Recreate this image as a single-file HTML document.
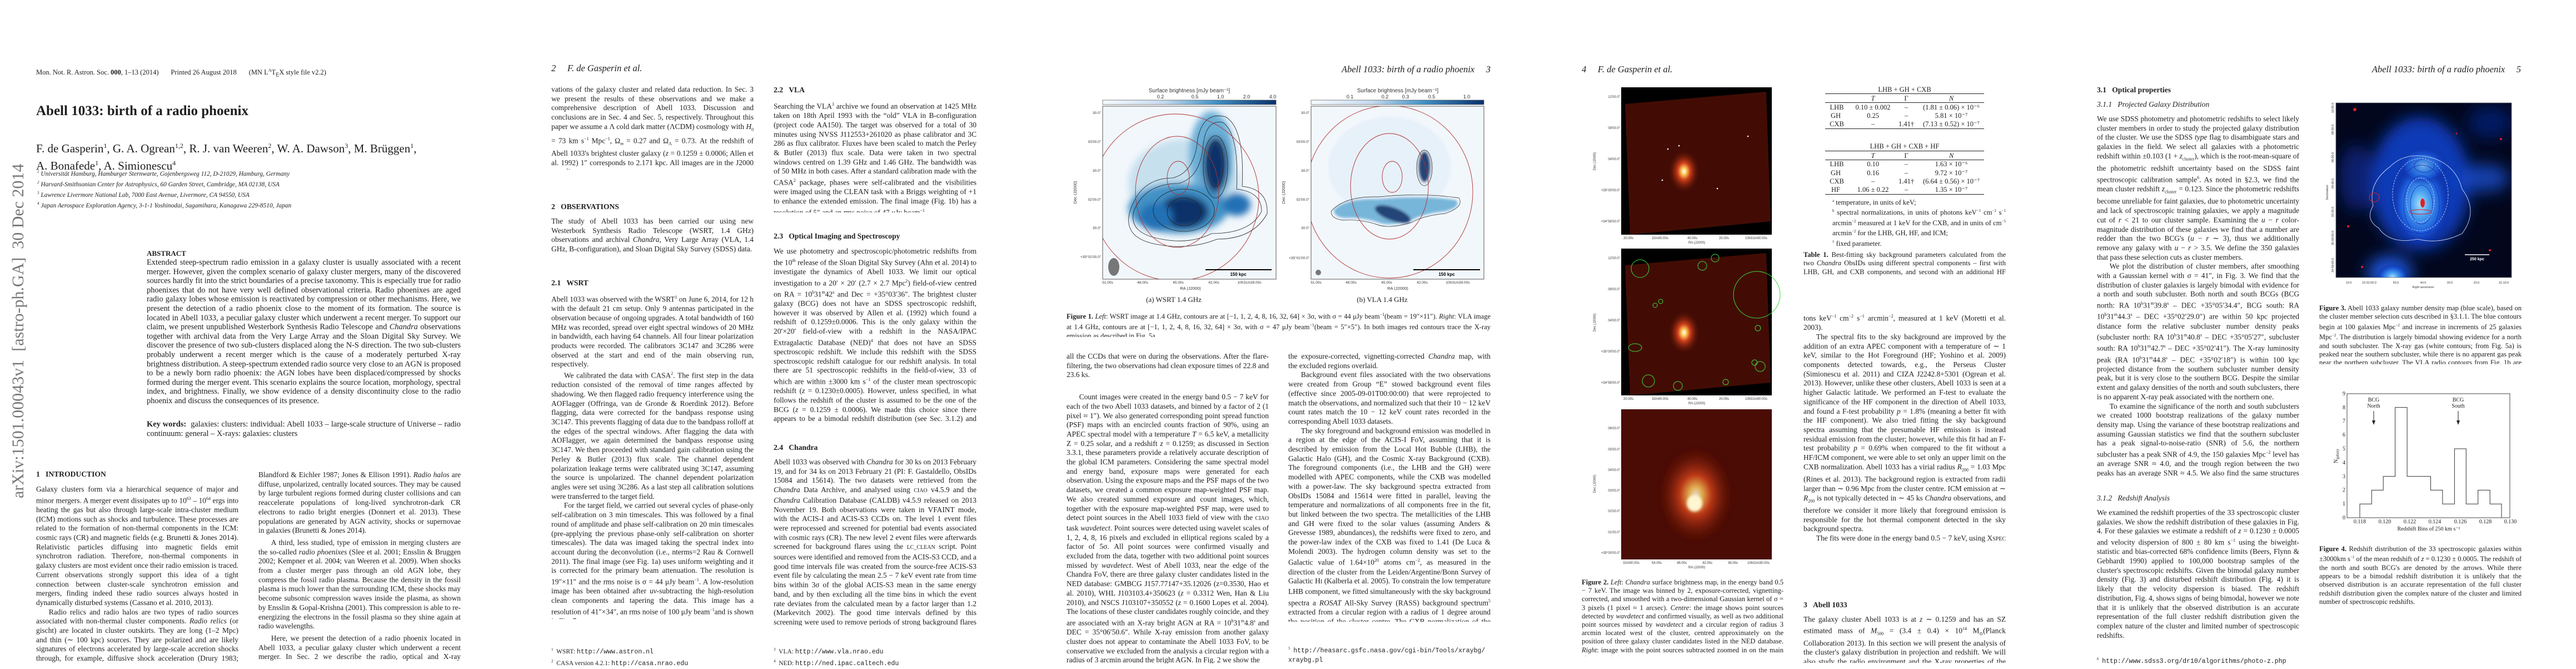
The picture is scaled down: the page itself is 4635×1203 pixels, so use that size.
<!DOCTYPE html>
<html lang="en"><head><meta charset="utf-8">
<style>
html,body{margin:0;padding:0;background:#fff;}
body{width:4635px;height:1200px;position:relative;overflow:hidden;font-family:"Liberation Serif",serif;color:#1e1e1e;}
.t{position:absolute;font-size:13.4px;line-height:16.7px;text-align:justify;overflow:hidden;}
.t p{margin:0;text-indent:1.7em}
.t p.n{text-indent:0}
.h{position:absolute;font-weight:bold;font-size:13.6px;line-height:16px;white-space:nowrap}
.hi{position:absolute;font-style:italic;font-size:13.6px;line-height:16px;white-space:nowrap}
.hd{position:absolute;font-style:italic;font-size:16.5px;line-height:20px;white-space:nowrap}
.cap{position:absolute;font-size:12.5px;line-height:15.3px;text-align:justify;overflow:hidden}
.fn{position:absolute;font-size:11.5px;line-height:16.5px;white-space:nowrap}
.mono{font-family:"Liberation Mono",monospace}
svg{position:absolute;overflow:visible}
</style></head><body>

<!-- ================= PAGE 1 ================= -->
<div style="position:absolute;left:65px;top:119px;font-size:12.5px;line-height:16px;white-space:nowrap">Mon. Not. R. Astron. Soc. <b>000</b>, 1–13 (2014)&nbsp;&nbsp;&nbsp;&nbsp;&nbsp;&nbsp;&nbsp;Printed 26 August 2018&nbsp;&nbsp;&nbsp;&nbsp;&nbsp;&nbsp;&nbsp;(MN L<sup style="font-size:8px">A</sup>T<sub style="font-size:10px">E</sub>X style file v2.2)</div>
<div style="position:absolute;left:65px;top:185px;font-size:25px;line-height:30px;font-weight:bold;white-space:nowrap">Abell 1033: birth of a radio phoenix</div>
<div style="position:absolute;left:65px;top:249px;font-size:21px;line-height:26px;white-space:nowrap">F. de Gasperin<sup style="font-size:12px">1</sup>, G. A. Ogrean<sup style="font-size:12px">1,2</sup>, R. J. van Weeren<sup style="font-size:12px">2</sup>, W. A. Dawson<sup style="font-size:12px">3</sup>, M. Brüggen<sup style="font-size:12px">1</sup>,<br>A. Bonafede<sup style="font-size:12px">1</sup>, A. Simionescu<sup style="font-size:12px">4</sup></div>
<div style="position:absolute;left:67px;top:302px;font-size:11.4px;line-height:15.1px;font-style:italic;white-space:nowrap"><sup style="font-size:7px">1</sup> Universität Hamburg, Hamburger Sternwarte, Gojenbergsweg 112, D-21029, Hamburg, Germany<br><sup style="font-size:7px">2</sup> Harvard-Smithsonian Center for Astrophysics, 60 Garden Street, Cambridge, MA 02138, USA<br><sup style="font-size:7px">3</sup> Lawrence Livermore National Lab, 7000 East Avenue, Livermore, CA 94550, USA<br><sup style="font-size:7px">4</sup> Japan Aerospace Exploration Agency, 3-1-1 Yoshinodai, Sagamihara, Kanagawa 229-8510, Japan</div>
<div style="position:absolute;left:16px;top:896px;transform-origin:0 0;transform:rotate(-90deg);font-size:30px;line-height:34px;color:#777;white-space:nowrap">arXiv:1501.00043v1&nbsp; [astro-ph.GA]&nbsp; 30 Dec 2014</div>
<div class="h" style="left:264px;top:448px;font-size:13px">ABSTRACT</div>
<div class="t" style="left:264px;top:464px;width:565px;height:283px;font-size:14.4px;line-height:16.6px"><p class="n">Extended steep-spectrum radio emission in a galaxy cluster is usually associated with a recent merger. However, given the complex scenario of galaxy cluster mergers, many of the discovered sources hardly fit into the strict boundaries of a precise taxonomy. This is especially true for radio phoenixes that do not have very well defined observational criteria. Radio phoenixes are aged radio galaxy lobes whose emission is reactivated by compression or other mechanisms. Here, we present the detection of a radio phoenix close to the moment of its formation. The source is located in Abell 1033, a peculiar galaxy cluster which underwent a recent merger. To support our claim, we present unpublished Westerbork Synthesis Radio Telescope and <i>Chandra</i> observations together with archival data from the Very Large Array and the Sloan Digital Sky Survey. We discover the presence of two sub-clusters displaced along the N-S direction. The two sub-clusters probably underwent a recent merger which is the cause of a moderately perturbed X-ray brightness distribution. A steep-spectrum extended radio source very close to an AGN is proposed to be a newly born radio phoenix: the AGN lobes have been displaced/compressed by shocks formed during the merger event. This scenario explains the source location, morphology, spectral index, and brightness. Finally, we show evidence of a density discontinuity close to the radio phoenix and discuss the consequences of its presence.</p></div>
<div class="t" style="left:264px;top:755px;width:565px;height:34px;font-size:14.4px;line-height:16.6px"><p class="n"><b>Key words:</b>&nbsp; galaxies: clusters: individual: Abell 1033 – large-scale structure of Universe – radio continuum: general – X-rays: galaxies: clusters</p></div>
<div class="h" style="left:65px;top:845px">1&nbsp;&nbsp;&nbsp;INTRODUCTION</div>
<div class="t" style="left:65px;top:872px;width:364px;height:320px"><p class="n">Galaxy clusters form via a hierarchical sequence of major and minor mergers. A merger event dissipates up to 10<sup style="font-size:8px">63</sup> – 10<sup style="font-size:8px">64</sup> ergs into heating the gas but also through large-scale intra-cluster medium (ICM) motions such as shocks and turbulence. These processes are related to the formation of non-thermal components in the ICM: cosmic rays (CR) and magnetic fields (e.g. Brunetti &amp; Jones 2014). Relativistic particles diffusing into magnetic fields emit synchrotron radiation. Therefore, non-thermal components in galaxy clusters are most evident once their radio emission is traced. Current observations strongly support this idea of a tight connection between cluster-scale synchrotron emission and mergers, finding indeed these radio sources always hosted in dynamically disturbed systems (Cassano et al. 2010, 2013).</p><p>Radio relics and radio halos are two types of radio sources associated with non-thermal cluster components. <i>Radio relics</i> (or gischt) are located in cluster outskirts. They are long (1–2 Mpc) and thin (∼ 100 kpc) sources. They are polarized and are likely signatures of electrons accelerated by large-scale accretion shocks through, for example, diffusive shock acceleration (Drury 1983; Blandford</p></div>
<div class="t" style="left:465px;top:846px;width:364px;height:346px"><p class="n">Blandford &amp; Eichler 1987; Jones &amp; Ellison 1991). <i>Radio halos</i> are diffuse, unpolarized, centrally located sources. They may be caused by large turbulent regions formed during cluster collisions and can reaccelerate populations of long-lived synchrotron-dark CR electrons to radio bright energies (Donnert et al. 2013). These populations are generated by AGN activity, shocks or supernovae in galaxies (Brunetti &amp; Jones 2014).</p><p style="margin-top:5px">A third, less studied, type of emission in merging clusters are the so-called <i>radio phoenixes</i> (Slee et al. 2001; Ensslin &amp; Bruggen 2002; Kempner et al. 2004; van Weeren et al. 2009). When shocks from a cluster merger pass through an old AGN lobe, they compress the fossil radio plasma. Because the density in the fossil plasma is much lower than the surrounding ICM, these shocks may become subsonic compression waves inside the plasma, as shown by Ensslin &amp; Gopal-Krishna (2001). This compression is able to re-energizing the electrons in the fossil plasma so they shine again at radio wavelengths.</p><p style="margin-top:5px">Here, we present the detection of a radio phoenix located in Abell 1033, a peculiar galaxy cluster which underwent a recent merger. In Sec. 2 we describe the radio, optical and X-ray observations</p></div>

<!-- ================= PAGE 2 ================= -->
<div class="hd" style="left:992px;top:113px">2&nbsp;&nbsp;&nbsp;&nbsp;&nbsp;F. de Gasperin et al.</div>
<div class="t" style="left:992px;top:153px;width:364px;height:152px"><p class="n">vations of the galaxy cluster and related data reduction. In Sec. 3 we present the results of these observations and we make a comprehensive description of Abell 1033. Discussion and conclusions are in Sec. 4 and Sec. 5, respectively. Throughout this paper we assume a Λ cold dark matter (ΛCDM) cosmology with <i>H</i><sub style="font-size:8px">0</sub> = 73 km s<sup style="font-size:8px">−1</sup> Mpc<sup style="font-size:8px">−1</sup>, Ω<sub style="font-size:8px"><i>m</i></sub> = 0.27 and Ω<sub style="font-size:8px">Λ</sub> = 0.73. At the redshift of Abell 1033's brightest cluster galaxy (<i>z</i> = 0.1259 ± 0.0006; Allen et al. 1992) 1″ corresponds to 2.171 kpc. All images are in the J2000 coordinate system.</p></div>
<div class="h" style="left:992px;top:364px">2&nbsp;&nbsp;&nbsp;OBSERVATIONS</div>
<div class="t" style="left:992px;top:390px;width:364px;height:68px"><p class="n">The study of Abell 1033 has been carried our using new Westerbork Synthesis Radio Telescope (WSRT, 1.4 GHz) observations and archival <i>Chandra</i>, Very Large Array (VLA, 1.4 GHz, B-configuration), and Sloan Digital Sky Survey (SDSS) data.</p></div>
<div class="h" style="left:992px;top:501px">2.1&nbsp;&nbsp;&nbsp;WSRT</div>
<div class="t" style="left:992px;top:527px;width:364px;height:586px"><p class="n">Abell 1033 was observed with the WSRT<sup style="font-size:8px">1</sup> on June 6, 2014, for 12 h with the default 21 cm setup. Only 9 antennas participated in the observation because of ongoing upgrades. A total bandwidth of 160 MHz was recorded, spread over eight spectral windows of 20 MHz in bandwidth, each having 64 channels. All four linear polarization products were recorded. The calibrators 3C147 and 3C286 were observed at the start and end of the main observing run, respectively.</p><p>We calibrated the data with CASA<sup style="font-size:8px">2</sup>. The first step in the data reduction consisted of the removal of time ranges affected by shadowing. We then flagged radio frequency interference using the AOFlagger (Offringa, van de Gronde &amp; Roerdink 2012). Before flagging, data were corrected for the bandpass response using 3C147. This prevents flagging of data due to the bandpass rolloff at the edges of the spectral windows. After flagging the data with AOFlagger, we again determined the bandpass response using 3C147. We then proceeded with standard gain calibration using the Perley &amp; Butler (2013) flux scale. The channel dependent polarization leakage terms were calibrated using 3C147, assuming the source is unpolarized. The channel dependent polarization angles were set using 3C286. As a last step all calibration solutions were transferred to the target field.</p><p>For the target field, we carried out several cycles of phase-only self-calibration on 3 min timescales. This was followed by a final round of amplitude and phase self-calibration on 20 min timescales (pre-applying the previous phase-only self-calibration on shorter timescales). The data was imaged taking the spectral index into account during the deconvolution (i.e., nterms=2 Rau &amp; Cornwell 2011). The final image (see Fig. 1a) uses uniform weighting and it is corrected for the primary beam attenuation. The resolution is 19″×11″ and the rms noise is σ = 44 μJy beam<sup style="font-size:8px">−1</sup>. A low-resolution image has been obtained after <i>uv</i>-subtracting the high-resolution clean components and tapering the data. This image has a resolution of 41″×34″, an rms noise of 100 μJy beam<sup style="font-size:8px">−1</sup>and is shown in Fig. 7.</p></div>
<div class="fn" style="left:992px;top:1160px"><sup style="font-size:7px">1</sup>&nbsp; WSRT: <span class="mono">http://www.astron.nl</span><br><sup style="font-size:7px">2</sup>&nbsp; CASA version 4.2.1: <span class="mono">http://casa.nrao.edu</span></div>
<div class="h" style="left:1392px;top:154px">2.2&nbsp;&nbsp;&nbsp;VLA</div>
<div class="t" style="left:1392px;top:180px;width:365px;height:202px"><p class="n">Searching the VLA<sup style="font-size:8px">3</sup> archive we found an observation at 1425 MHz taken on 18th April 1993 with the “old” VLA in B-configuration (project code AA150). The target was observed for a total of 30 minutes using NVSS J112553+261020 as phase calibrator and 3C 286 as flux calibrator. Fluxes have been scaled to match the Perley &amp; Butler (2013) flux scale. Data were taken in two spectral windows centred on 1.39 GHz and 1.46 GHz. The bandwidth was of 50 MHz in both cases. After a standard calibration made with the CASA<sup style="font-size:8px">2</sup> package, phases were self-calibrated and the visibilities were imaged using the CLEAN task with a Briggs weighting of +1 to enhance the extended emission. The final image (Fig. 1b) has a resolution of 5″ and an rms noise of 47 μJy beam<sup style="font-size:8px">−1</sup>.</p></div>
<div class="h" style="left:1392px;top:417px">2.3&nbsp;&nbsp;&nbsp;Optical Imaging and Spectroscopy</div>
<div class="t" style="left:1392px;top:444px;width:365px;height:318px"><p class="n">We use photometry and spectroscopic/photometric redshifts from the 10<sup style="font-size:8px">th</sup> release of the Sloan Digital Sky Survey (Ahn et al. 2014) to investigate the dynamics of Abell 1033. We limit our optical investigation to a 20′ × 20′ (2.7 × 2.7 Mpc<sup style="font-size:8px">2</sup>) field-of-view centred on RA = 10<sup style="font-size:8px">h</sup>31<sup style="font-size:8px">m</sup>42<sup style="font-size:8px">s</sup> and Dec = +35°03′36″. The brightest cluster galaxy (BCG) does not have an SDSS spectroscopic redshift, however it was observed by Allen et al. (1992) which found a redshift of 0.1259±0.0006. This is the only galaxy within the 20′×20′ field-of-view with a redshift in the NASA/IPAC Extragalactic Database (NED)<sup style="font-size:8px">4</sup> that does not have an SDSS spectroscopic redshift. We include this redshift with the SDSS spectroscopic redshift catalogue for our redshift analysis. In total there are 51 spectroscopic redshifts in the field-of-view, 33 of which are within ±3000 km s<sup style="font-size:8px">−1</sup> of the cluster mean spectroscopic redshift (<i>z</i> = 0.1230±0.0005). However, unless specified, in what follows the redshift of the cluster is assumed to be the one of the BCG (<i>z</i> = 0.1259 ± 0.0006). We made this choice since there appears to be a bimodal redshift distribution (see Sec. 3.1.2) and peak of the X-ray emission and radio phoenix are both close to the BCG in projection.</p></div>
<div class="h" style="left:1392px;top:797px">2.4&nbsp;&nbsp;&nbsp;Chandra</div>
<div class="t" style="left:1392px;top:823px;width:365px;height:302px"><p class="n">Abell 1033 was observed with <i>Chandra</i> for 30 ks on 2013 February 19, and for 34 ks on 2013 February 21 (PI: F. Gastaldello, ObsIDs 15084 and 15614). The two datasets were retrieved from the <i>Chandra</i> Data Archive, and analysed using <span style="font-size:10px">CIAO</span> v4.5.9 and the <i>Chandra</i> Calibration Database (CALDB) v4.5.9 released on 2013 November 19. Both observations were taken in VFAINT mode, with the ACIS-I and ACIS-S3 CCDs on. The level 1 event files were reprocessed and screened for potential bad events associated with cosmic rays (CR). The new level 2 event files were afterwards screened for background flares using the <span style="font-size:10px">LC_CLEAN</span> script. Point sources were identified and removed from the ACIS-S3 CCD, and a good time intervals file was created from the source-free ACIS-S3 event file by calculating the mean 2.5 − 7 keV event rate from time bins within 3σ of the global ACIS-S3 mean in the same energy band, and by then excluding all the time bins in which the event rate deviates from the calculated mean by a factor larger than 1.2 (Markevitch 2002). The good time intervals defined by this screening were used to remove periods of strong background flares from all</p></div>
<div class="fn" style="left:1392px;top:1160px"><sup style="font-size:7px">3</sup>&nbsp; VLA: <span class="mono">http://www.vla.nrao.edu</span><br><sup style="font-size:7px">4</sup>&nbsp; NED: <span class="mono">http://ned.ipac.caltech.edu</span></div>

<!-- ================= PAGE 3 ================= -->
<div class="hd" style="left:2380px;top:115px;width:302px;text-align:right">Abell 1033: birth of a radio phoenix&nbsp;&nbsp;&nbsp;&nbsp;&nbsp;3</div>
<svg style="left:0;top:0" width="4635" height="1200" viewBox="0 0 4635 1200">
<defs>
<linearGradient id="cb" x1="0" x2="1"><stop offset="0" stop-color="#f7fbff"/><stop offset="0.35" stop-color="#c6dbef"/><stop offset="0.65" stop-color="#4292c6"/><stop offset="1" stop-color="#08306b"/></linearGradient>
<filter id="bl" x="-50%" y="-50%" width="200%" height="200%"><feGaussianBlur stdDeviation="6"/></filter>
<filter id="bl2" x="-50%" y="-50%" width="200%" height="200%"><feGaussianBlur stdDeviation="2.5"/></filter>
<filter id="bl3" x="-50%" y="-50%" width="200%" height="200%"><feGaussianBlur stdDeviation="14"/></filter>
<clipPath id="c1"><rect x="1984" y="191" width="312" height="311"/></clipPath>
<clipPath id="c2"><rect x="2359" y="191" width="311" height="311"/></clipPath>
<clipPath id="c3"><rect x="4203" y="185" width="316" height="314"/></clipPath>
<radialGradient id="rg1"><stop offset="0" stop-color="#ffffff"/><stop offset="0.15" stop-color="#ffd060"/><stop offset="0.4" stop-color="#d0401a"/><stop offset="1" stop-color="#5a0f05" stop-opacity="0"/></radialGradient>
<radialGradient id="rgb"><stop offset="0" stop-color="#a8e0ff"/><stop offset="0.3" stop-color="#4aa0f0"/><stop offset="0.65" stop-color="#1a5ad8"/><stop offset="1" stop-color="#0a1f8a" stop-opacity="0"/></radialGradient>
</defs>
<!-- fig1a -->
<text x="2140" y="166" font-family="Liberation Sans" font-size="10" text-anchor="middle" fill="#333">Surface brightness [mJy beam⁻¹]</text>
<g font-family="Liberation Sans" font-size="9" fill="#333" text-anchor="middle"><text x="2088" y="177">0.2</text><text x="2150" y="177">0.5</text><text x="2196" y="177">1.0</text><text x="2243" y="177">2.0</text><text x="2290" y="177">4.0</text></g>
<rect x="1984" y="180" width="312" height="8" fill="url(#cb)" stroke="#555" stroke-width="0.7"/>
<rect x="1984" y="191" width="312" height="311" fill="#f2f7fc"/>
<g clip-path="url(#c1)">
<g filter="url(#bl)"><ellipse cx="2130" cy="330" rx="100" ry="80" fill="#9ecae1" opacity="0.5"/><ellipse cx="2180" cy="280" rx="40" ry="80" fill="#6baed6"/><ellipse cx="2120" cy="375" rx="90" ry="45" fill="#4292c6"/><ellipse cx="2187" cy="296" rx="22" ry="50" fill="#08306b"/><ellipse cx="2130" cy="381" rx="45" ry="30" fill="#08306b"/><ellipse cx="2080" cy="390" rx="30" ry="25" fill="#2171b5"/><ellipse cx="2225" cy="368" rx="25" ry="20" fill="#2171b5"/></g>
<g fill="none" stroke="#222" stroke-width="0.8"><ellipse cx="2187" cy="296" rx="14" ry="40"/><ellipse cx="2187" cy="300" rx="22" ry="56"/><ellipse cx="2130" cy="381" rx="30" ry="25"/><ellipse cx="2130" cy="378" rx="55" ry="38"/><path d="M2040 380 Q2060 330 2120 330 Q2160 320 2165 260 Q2170 215 2200 220 Q2230 240 2225 340 Q2270 345 2270 380 Q2250 420 2180 420 Q2140 440 2090 430 Q2030 420 2040 380Z"/><path d="M2032 384 Q2050 320 2110 320 Q2150 310 2155 250 Q2165 200 2205 210 Q2240 230 2235 335 Q2282 340 2280 384 Q2255 430 2190 430 Q2140 450 2085 440 Q2022 430 2032 384Z"/></g>
<g fill="none" stroke="#b03030" stroke-width="0.9"><ellipse cx="2115" cy="355" rx="150" ry="150"/><ellipse cx="2118" cy="345" rx="75" ry="100"/><ellipse cx="2120" cy="320" rx="20" ry="30"/></g>
<ellipse cx="2004" cy="480" rx="10" ry="16" fill="#777"/>
<line x1="2169" y1="485" x2="2288" y2="485" stroke="#000" stroke-width="2"/><text x="2228" y="496" font-family="Liberation Sans" font-size="8" font-weight="bold" text-anchor="middle">150 kpc</text>
</g>
<rect x="1984" y="191" width="312" height="311" fill="none" stroke="#333" stroke-width="0.8"/>
<g font-family="Liberation Sans" font-size="6.5" fill="#333" text-anchor="end"><text x="1981" y="205">30.0"</text><text x="1981" y="257">03'00.0"</text><text x="1981" y="309">30.0"</text><text x="1981" y="361">02'00.0"</text><text x="1981" y="412">30.0"</text><text x="1981" y="464">+35°01'00.0"</text></g>
<g font-family="Liberation Sans" font-size="6.5" fill="#333" text-anchor="middle"><text x="1993" y="510">51.00s</text><text x="2056" y="510">48.00s</text><text x="2120" y="510">45.00s</text><text x="2184" y="510">42.00s</text><text x="2248" y="510">10h31m39.00s</text></g>
<text x="2142" y="521" font-family="Liberation Sans" font-size="7.5" text-anchor="middle" fill="#333">RA (J2000)</text>
<text transform="translate(1937,346) rotate(-90)" font-family="Liberation Sans" font-size="7.5" text-anchor="middle" fill="#333">Dec (J2000)</text>
<text x="2112" y="543" font-family="Liberation Serif" font-size="13" text-anchor="middle" fill="#222">(a) WSRT 1.4 GHz</text>
<!-- fig1b -->
<text x="2515" y="166" font-family="Liberation Sans" font-size="10" text-anchor="middle" fill="#333">Surface brightness [mJy beam⁻¹]</text>
<g font-family="Liberation Sans" font-size="9" fill="#333" text-anchor="middle"><text x="2429" y="177">0.1</text><text x="2492" y="177">0.2</text><text x="2529" y="177">0.3</text><text x="2576" y="177">0.5</text><text x="2639" y="177">1.0</text></g>
<rect x="2359" y="180" width="311" height="8" fill="url(#cb)" stroke="#555" stroke-width="0.7"/>
<rect x="2359" y="191" width="311" height="311" fill="#f2f7fc"/>
<g clip-path="url(#c2)">
<g filter="url(#bl2)" opacity="0.9"><ellipse cx="2500" cy="300" rx="110" ry="90" fill="#deebf7" opacity="0.6"/><path d="M2400 378 Q2420 356 2480 358 Q2560 350 2620 360 Q2630 372 2600 380 Q2560 384 2540 396 Q2500 408 2480 400 Q2450 390 2420 392 Q2400 390 2400 378Z" fill="#6baed6"/><ellipse cx="2506" cy="385" rx="34" ry="12" fill="#08306b" transform="rotate(20 2506 385)"/><ellipse cx="2563" cy="300" rx="11" ry="28" fill="#08306b"/></g>
<g fill="none" stroke="#222" stroke-width="0.7"><ellipse cx="2563" cy="302" rx="14" ry="32"/><path d="M2395 380 Q2420 352 2480 354 Q2560 346 2625 356 Q2635 372 2600 384 Q2560 388 2540 400 Q2500 412 2478 404 Q2450 394 2418 396 Q2395 394 2395 380Z"/></g>
<g fill="none" stroke="#b03030" stroke-width="0.9"><ellipse cx="2500" cy="345" rx="150" ry="155"/><ellipse cx="2500" cy="335" rx="70" ry="95"/><ellipse cx="2505" cy="318" rx="18" ry="28"/></g>
<circle cx="2372" cy="490" r="5" fill="#777"/>
<line x1="2543" y1="485" x2="2663" y2="485" stroke="#000" stroke-width="2"/><text x="2603" y="496" font-family="Liberation Sans" font-size="8" font-weight="bold" text-anchor="middle">150 kpc</text>
</g>
<rect x="2359" y="191" width="311" height="311" fill="none" stroke="#333" stroke-width="0.8"/>
<g font-family="Liberation Sans" font-size="6.5" fill="#333" text-anchor="end"><text x="2356" y="205">30.0"</text><text x="2356" y="257">03'00.0"</text><text x="2356" y="309">30.0"</text><text x="2356" y="361">02'00.0"</text><text x="2356" y="412">30.0"</text><text x="2356" y="466">+35°01'00.0"</text></g>
<g font-family="Liberation Sans" font-size="6.5" fill="#333" text-anchor="middle"><text x="2368" y="510">51.00s</text><text x="2431" y="510">48.00s</text><text x="2495" y="510">45.00s</text><text x="2559" y="510">42.00s</text><text x="2623" y="510">10h31m39.00s</text></g>
<text x="2515" y="521" font-family="Liberation Sans" font-size="7.5" text-anchor="middle" fill="#333">RA (J2000)</text>
<text transform="translate(2312,346) rotate(-90)" font-family="Liberation Sans" font-size="7.5" text-anchor="middle" fill="#333">Dec (J2000)</text>
<text x="2487" y="543" font-family="Liberation Serif" font-size="13" text-anchor="middle" fill="#222">(b) VLA 1.4 GHz</text>

<!-- PAGE 4 figures -->
<g>
<rect x="2917" y="157" width="271" height="265" fill="#000"/>
<polygon points="2924,187 3178,165 3186,398 2933,422" fill="#420c05"/>
<ellipse cx="3030" cy="308" rx="28" ry="38" fill="url(#rg1)"/>
<g fill="#fff"><circle cx="3021" cy="262" r="1.3"/><circle cx="3001" cy="268" r="1.3"/><circle cx="3145" cy="245" r="1.3"/><circle cx="2991" cy="324" r="1.3"/><circle cx="3090" cy="339" r="1.3"/></g>
<rect x="2917" y="447" width="271" height="264" fill="#000"/>
<polygon points="2924,477 3178,455 3186,688 2933,711" fill="#420c05"/>
<ellipse cx="3030" cy="598" rx="28" ry="38" fill="url(#rg1)"/>
<g fill="none" stroke="#3cd83c" stroke-width="1"><circle cx="2951" cy="483" r="16"/><circle cx="3161" cy="530" r="42"/><circle cx="3086" cy="464" r="7"/><circle cx="3063" cy="478" r="8"/><circle cx="2966" cy="685" r="11"/><circle cx="3019" cy="694" r="8"/><circle cx="3167" cy="659" r="9"/><ellipse cx="2942" cy="625" rx="12" ry="7"/><circle cx="2978" cy="549" r="4"/><circle cx="2988" cy="542" r="4"/><circle cx="3163" cy="590" r="5"/><circle cx="3105" cy="687" r="5"/><circle cx="3157" cy="652" r="5"/></g>
<rect x="2917" y="736" width="271" height="270" fill="#4a0c05"/>
<ellipse cx="3051" cy="890" rx="70" ry="90" fill="url(#rg1)" opacity="0.85" filter="url(#bl2)"/>
<ellipse cx="3049" cy="905" rx="14" ry="15" fill="#fff5d0" filter="url(#bl2)"/>
<g font-family="Liberation Sans" font-size="6" fill="#333" text-anchor="end"><text x="2915" y="176">12'00.0"</text><text x="2915" y="232">08'00.0"</text><text x="2915" y="288">04'00.0"</text><text x="2915" y="344">+35°00'00.0"</text><text x="2915" y="400">+34°56'00.0"</text><text x="2915" y="466">12'00.0"</text><text x="2915" y="522">08'00.0"</text><text x="2915" y="578">04'00.0"</text><text x="2915" y="634">+35°00'00.0"</text><text x="2915" y="690">+34°56'00.0"</text><text x="2915" y="772">06'00.0"</text><text x="2915" y="810">05'00.0"</text><text x="2915" y="847">04'00.0"</text><text x="2915" y="884">03'00.0"</text><text x="2915" y="921">02'00.0"</text><text x="2915" y="959">01'00.0"</text><text x="2915" y="996">+35°00'00.0"</text></g>
<g font-family="Liberation Sans" font-size="6" fill="#333" text-anchor="middle"><text x="2930" y="430">20.00s</text><text x="2987" y="430">32m00.00s</text><text x="3045" y="430">40.00s</text><text x="3102" y="430">20.00s</text><text x="3160" y="430">10h31m00.00s</text><text x="3053" y="438">RA (J2000)</text><text x="2930" y="719">20.00s</text><text x="2987" y="719">32m00.00s</text><text x="3045" y="719">40.00s</text><text x="3102" y="719">20.00s</text><text x="3160" y="719">10h31m00.00s</text><text x="3053" y="727">RA (J2000)</text><text x="2935" y="1014">32m00.00s</text><text x="2981" y="1014">54.00s</text><text x="3026" y="1014">48.00s</text><text x="3072" y="1014">42.00s</text><text x="3118" y="1014">36.00s</text><text x="3164" y="1014">10h31m30.00s</text><text x="3053" y="1022">RA (J2000)</text></g>
<g font-family="Liberation Sans" font-size="6" fill="#333" text-anchor="middle"><text transform="translate(2871,290) rotate(-90)">Dec (J2000)</text><text transform="translate(2871,580) rotate(-90)">Dec (J2000)</text><text transform="translate(2871,870) rotate(-90)">Dec (J2000)</text></g>
</g>

<!-- PAGE 4 table -->
<g font-family="Liberation Serif" font-size="12.5" fill="#222" text-anchor="middle">
<text x="3427" y="165">LHB + GH + CXB</text>
<line x1="3284" y1="168.5" x2="3570" y2="168.5" stroke="#222" stroke-width="1"/>
<text x="3370" y="181" font-style="italic">T</text><text x="3430" y="181">Γ</text><text x="3511" y="181" font-style="italic">N</text>
<line x1="3284" y1="184.5" x2="3570" y2="184.5" stroke="#222" stroke-width="1"/>
<text x="3305" y="197">LHB</text><text x="3370" y="197">0.10 ± 0.002</text><text x="3430" y="197">–</text><text x="3511" y="197">(1.81 ± 0.06) × 10⁻⁶</text>
<text x="3303" y="212">GH</text><text x="3370" y="212">0.25</text><text x="3430" y="212">–</text><text x="3511" y="212">5.81 × 10⁻⁷</text>
<text x="3305" y="227">CXB</text><text x="3370" y="227">–</text><text x="3430" y="227">1.41†</text><text x="3511" y="227">(7.13 ± 0.52) × 10⁻⁷</text>
<line x1="3284" y1="231.5" x2="3570" y2="231.5" stroke="#222" stroke-width="1"/>
<text x="3427" y="267">LHB + GH + CXB + HF</text>
<line x1="3284" y1="271.5" x2="3570" y2="271.5" stroke="#222" stroke-width="1"/>
<text x="3370" y="284" font-style="italic">T</text><text x="3430" y="284">Γ</text><text x="3511" y="284" font-style="italic">N</text>
<line x1="3284" y1="287.5" x2="3570" y2="287.5" stroke="#222" stroke-width="1"/>
<text x="3305" y="299">LHB</text><text x="3370" y="299">0.10</text><text x="3430" y="299">–</text><text x="3511" y="299">1.63 × 10⁻⁶</text>
<text x="3303" y="315">GH</text><text x="3370" y="315">0.16</text><text x="3430" y="315">–</text><text x="3511" y="315">9.72 × 10⁻⁷</text>
<text x="3305" y="330">CXB</text><text x="3370" y="330">–</text><text x="3430" y="330">1.41†</text><text x="3511" y="330">(6.64 ± 0.56) × 10⁻⁷</text>
<text x="3303" y="345">HF</text><text x="3370" y="345">1.06 ± 0.22</text><text x="3430" y="345">–</text><text x="3511" y="345">1.35 × 10⁻⁷</text>
<line x1="3284" y1="349.5" x2="3570" y2="349.5" stroke="#222" stroke-width="1"/>
</g>

<!-- PAGE 5 fig3 -->
<rect x="4203" y="185" width="316" height="314" fill="#02071e"/>
<g clip-path="url(#c3)">
<g filter="url(#bl3)"><ellipse cx="4355" cy="330" rx="90" ry="120" fill="#1240c8" opacity="0.9"/><ellipse cx="4470" cy="320" rx="45" ry="25" fill="#1a50d0" opacity="0.8"/><ellipse cx="4300" cy="490" rx="40" ry="30" fill="#1a55d8"/><ellipse cx="4240" cy="320" rx="30" ry="60" fill="#0a2890" opacity="0.7"/><ellipse cx="4480" cy="220" rx="40" ry="30" fill="#0a2890" opacity="0.6"/></g>
<ellipse cx="4355" cy="367" rx="55" ry="80" fill="url(#rgb)"/>
<ellipse cx="4360" cy="298" rx="45" ry="35" fill="url(#rgb)" opacity="0.7"/>
<ellipse cx="4305" cy="498" rx="30" ry="24" fill="url(#rgb)"/>
<g fill="none" stroke="#1830c0" stroke-width="0.8"><ellipse cx="4357" cy="368" rx="20" ry="35"/><ellipse cx="4357" cy="368" rx="32" ry="52"/><ellipse cx="4357" cy="365" rx="45" ry="68"/><ellipse cx="4362" cy="298" rx="18" ry="12"/><ellipse cx="4360" cy="300" rx="35" ry="24"/><ellipse cx="4355" cy="320" rx="75" ry="100"/></g>
<g fill="none" stroke="#d8e4ff" stroke-width="0.8" stroke-dasharray="3 2"><ellipse cx="4355" cy="360" rx="25" ry="40"/><ellipse cx="4355" cy="350" rx="50" ry="65"/></g>
<path d="M4270 370 Q4260 330 4300 300 Q4330 270 4380 285 Q4420 300 4430 340 Q4460 380 4430 420 Q4390 440 4350 430 Q4300 440 4280 410 Q4255 395 4270 370Z" fill="none" stroke="#e0e8ff" stroke-width="0.8"/>
<g fill="#e02020"><ellipse cx="4272" cy="355" rx="9" ry="8" fill="none" stroke="#e02020"/><ellipse cx="4359" cy="365" rx="4" ry="8"/><ellipse cx="4355" cy="381" rx="20" ry="4" fill="none" stroke="#e02020"/><circle cx="4237" cy="197" r="3"/><circle cx="4225" cy="407" r="2"/><circle cx="4480" cy="450" r="2"/><circle cx="4500" cy="250" r="2"/><circle cx="4420" cy="240" r="1.5"/><circle cx="4250" cy="480" r="2"/></g>
<line x1="4435" y1="458" x2="4479" y2="458" stroke="#fff" stroke-width="1.5"/><text x="4457" y="468" font-family="Liberation Sans" font-size="7" font-weight="bold" fill="#fff" text-anchor="middle">250 kpc</text>
</g>
<rect x="4203" y="185" width="316" height="314" fill="none" stroke="#666" stroke-width="0.8"/>
<g font-family="Liberation Sans" font-size="5.5" fill="#333" text-anchor="middle"><text x="4226" y="510">10.0</text><text x="4263" y="510">10:32:00.0</text><text x="4311" y="510">50.0</text><text x="4360" y="510">40.0</text><text x="4408" y="510">30.0</text><text x="4456" y="510">20.0</text><text x="4505" y="510">31:10:0</text><text x="4360" y="518">Right ascension</text>
<text transform="translate(4199,194) rotate(-90)">10:00.0</text><text transform="translate(4199,233) rotate(-90)">08:00.0</text><text transform="translate(4199,283) rotate(-90)">06:00.0</text><text transform="translate(4199,330) rotate(-90)">04:00.0</text><text transform="translate(4199,381) rotate(-90)">02:00.0</text><text transform="translate(4199,428) rotate(-90)">35:00:00.0</text><text transform="translate(4199,477) rotate(-90)">34:58:00.0</text><text transform="translate(4189,346) rotate(-90)">Declination</text></g>

<!-- PAGE 5 fig4 histogram -->
<rect x="4223" y="708" width="293" height="223" fill="none" stroke="#333" stroke-width="0.9"/>
<path d="M4246 931 V906.2 H4267.3 V881.4 H4288.2 V856.6 H4309.6 V732.6 H4331.1 V856.6 H4373.5 V881.4 H4394.9 V906.2 H4416.4 V807 H4437.3 V906.2 H4458.7 V881.4 H4480.2 V906.2 H4501 V931" fill="none" stroke="#333" stroke-width="1"/>
<g font-family="Liberation Serif" font-size="10" fill="#222" text-anchor="end"><text x="4220" y="934">0</text><text x="4220" y="909">1</text><text x="4220" y="884">2</text><text x="4220" y="860">3</text><text x="4220" y="835">4</text><text x="4220" y="810">5</text><text x="4220" y="785">6</text><text x="4220" y="760">7</text><text x="4220" y="736">8</text><text x="4220" y="711">9</text></g>
<g font-family="Liberation Serif" font-size="10" fill="#222" text-anchor="middle"><text x="4246" y="941">0.118</text><text x="4291" y="941">0.120</text><text x="4336" y="941">0.122</text><text x="4381" y="941">0.124</text><text x="4427" y="941">0.126</text><text x="4472" y="941">0.128</text><text x="4517" y="941">0.130</text><text x="4370" y="954">Redshift Bins of 250 km s⁻¹</text>
<text x="4271" y="722">BCG</text><text x="4271" y="733">North</text><text x="4423" y="722">BCG</text><text x="4423" y="733">South</text></g>
<g stroke="#222" stroke-width="1"><line x1="4271" y1="739" x2="4271" y2="762"/><line x1="4423" y1="739" x2="4423" y2="762"/></g>
<g fill="#222"><polygon points="4268,756 4274,756 4271,764"/><polygon points="4420,756 4426,756 4423,764"/></g>
<text transform="translate(4206,820) rotate(-90)" font-family="Liberation Serif" font-size="10" text-anchor="middle" fill="#222">N<tspan font-size="7" dy="2">galaxy</tspan></text>
</svg>

<div class="cap" style="left:1919px;top:558px;width:763px;height:48px"><b>Figure 1.</b> <i>Left</i>: WSRT image at 1.4 GHz, contours are at [−1, 1, 2, 4, 8, 16, 32, 64] × 3σ, with σ = 44 μJy beam<sup style="font-size:8px">−1</sup>(beam = 19″×11″). <i>Right</i>: VLA image at 1.4 GHz, contours are at [−1, 1, 2, 4, 8, 16, 32, 64] × 3σ, with σ = 47 μJy beam<sup style="font-size:8px">−1</sup>(beam = 5″×5″). In both images red contours trace the X-ray emission as described in Fig. 5a.</div>
<div class="t" style="left:1919px;top:633px;width:364px;height:560px"><p class="n">all the CCDs that were on during the observations. After the flare-filtering, the two observations had clean exposure times of 22.8 and 23.6 ks.</p><p style="margin-top:23px">Count images were created in the energy band 0.5 − 7 keV for each of the two Abell 1033 datasets, and binned by a factor of 2 (1 pixel ≈ 1″). We also generated corresponding point spread function (PSF) maps with an encircled counts fraction of 90%, using an APEC spectral model with a temperature <i>T</i> = 6.5 keV, a metallicity Z = 0.25 solar, and a redshift <i>z</i> = 0.1259; as discussed in Section 3.3.1, these parameters provide a relatively accurate description of the global ICM parameters. Considering the same spectral model and energy band, exposure maps were generated for each observation. Using the exposure maps and the PSF maps of the two datasets, we created a common exposure map-weighted PSF map. We also created summed exposure and count images, which, together with the exposure map-weighted PSF map, were used to detect point sources in the Abell 1033 field of view with the <span style="font-size:10px">CIAO</span> task <i>wavdetect</i>. Point sources were detected using wavelet scales of 1, 2, 4, 8, 16 pixels and excluded in elliptical regions scaled by a factor of 5σ. All point sources were confirmed visually and excluded from the data, together with two additional point sources missed by <i>wavdetect</i>. West of Abell 1033, near the edge of the Chandra FoV, there are three galaxy cluster candidates listed in the NED database: GMBCG J157.77147+35.12026 (z=0.3530, Hao et al. 2010), WHL J103103.4+350623 (<i>z</i> = 0.3312 Wen, Han &amp; Liu 2010), and NSCS J103107+350552 (<i>z</i> = 0.1600 Lopes et al. 2004). The locations of these cluster candidates roughly coincide, and they are associated with an X-ray bright AGN at RA = 10<sup style="font-size:8px">h</sup>31<sup style="font-size:8px">m</sup>4.8<sup style="font-size:8px">s</sup> and DEC = 35°06′50.6″. While X-ray emission from another galaxy cluster does not appear to contaminate the Abell 1033 FoV, to be conservative we excluded from the analysis a circular region with a radius of 3 arcmin around the bright AGN. In Fig. 2 we show the</p></div>
<div class="t" style="left:2318px;top:633px;width:364px;height:485px"><p class="n">the exposure-corrected, vignetting-corrected <i>Chandra</i> map, with the excluded regions overlaid.</p><p>Background event files associated with the two observations were created from Group “E” stowed background event files (effective since 2005-09-01T00:00:00) that were reprojected to match the observations, and normalized such that their 10 − 12 keV count rates match the 10 − 12 keV count rates recorded in the corresponding Abell 1033 datasets.</p><p>The sky foreground and background emission was modelled in a region at the edge of the ACIS-I FoV, assuming that it is described by emission from the Local Hot Bubble (LHB), the Galactic Halo (GH), and the Cosmic X-ray Background (CXB). The foreground components (i.e., the LHB and the GH) were modelled with APEC components, while the CXB was modelled with a power-law. The sky background spectra extracted from ObsIDs 15084 and 15614 were fitted in parallel, leaving the temperature and normalizations of all components free in the fit, but linked between the two spectra. The metallicities of the LHB and GH were fixed to the solar values (assuming Anders &amp; Grevesse 1989, abundances), the redshifts were fixed to zero, and the power-law index of the CXB was fixed to 1.41 (De Luca &amp; Molendi 2003). The hydrogen column density was set to the Galactic value of 1.64×10<sup style="font-size:8px">20</sup> atoms cm<sup style="font-size:8px">−2</sup>, as measured in the direction of the cluster from the Leiden/Argentine/Bonn Survey of Galactic H<span style="font-size:10px">I</span> (Kalberla et al. 2005). To constrain the low temperature LHB component, we fitted simultaneously with the sky background spectra a <i>ROSAT</i> All-Sky Survey (RASS) background spectrum<sup style="font-size:8px">5</sup> extracted from a circular region with a radius of 1 degree around the position of the cluster centre. The CXB normalization of the RASS spectrum was fixed to 8.85 × 10<sup style="font-size:8px">−7</sup> pho-</p></div>
<div class="fn" style="left:2318px;top:1158px"><sup style="font-size:7px">5</sup>&nbsp; <span class="mono">http://heasarc.gsfc.nasa.gov/cgi-bin/Tools/xraybg/</span><br><span class="mono">xraybg.pl</span></div>

<!-- ================= PAGE 4 text ================= -->
<div class="hd" style="left:2846px;top:115px">4&nbsp;&nbsp;&nbsp;&nbsp;&nbsp;F. de Gasperin et al.</div>
<div class="cap" style="left:3297px;top:354px;width:312px;height:92px;font-size:12.6px;line-height:15.3px"><sup style="font-size:7px">a</sup> temperature, in units of keV;<br><sup style="font-size:7px">b</sup> spectral normalizations, in units of photons keV<sup style="font-size:7px">−1</sup> cm<sup style="font-size:7px">−2</sup> s<sup style="font-size:7px">−1</sup> arcmin<sup style="font-size:7px">−2</sup> measured at 1 keV for the CXB, and in units of cm<sup style="font-size:7px">−5</sup> arcmin<sup style="font-size:7px">−2</sup> for the LHB, GH, HF, and ICM;<br><sup style="font-size:7px">†</sup> fixed parameter.</div>
<div class="cap" style="left:3245px;top:451px;width:364px;height:48px"><b>Table 1.</b> Best-fitting sky background parameters calculated from the two <i>Chandra</i> ObsIDs using different spectral components – first with LHB, GH, and CXB components, and second with an additional HF component.</div>
<div class="t" style="left:3245px;top:561px;width:364px;height:420px"><p class="n">tons keV<sup style="font-size:8px">−1</sup> cm<sup style="font-size:8px">−2</sup> s<sup style="font-size:8px">−1</sup> arcmin<sup style="font-size:8px">−2</sup>, measured at 1 keV (Moretti et al. 2003).</p><p>The spectral fits to the sky background are improved by the addition of an extra APEC component with a temperature of ∼ 1 keV, similar to the Hot Foreground (HF; Yoshino et al. 2009) components detected towards, e.g., the Perseus Cluster (Simionescu et al. 2011) and CIZA J2242.8+5301 (Ogrean et al. 2013). However, unlike these other clusters, Abell 1033 is seen at a higher Galactic latitude. We performed an F-test to evaluate the significance of the HF component in the direction of Abell 1033, and found a F-test probability <i>p</i> = 1.8% (meaning a better fit with the HF component). We also tried fitting the sky background spectra assuming that the presumable HF emission is instead residual emission from the cluster; however, while this fit had an F-test probability <i>p</i> = 0.69% when compared to the fit without a HF/ICM component, we were able to set only an upper limit on the CXB normalization. Abell 1033 has a virial radius <i>R</i><sub style="font-size:8px">200</sub> = 1.03 Mpc (Rines et al. 2013). The background region is extracted from radii larger than ∼ 0.96 Mpc from the cluster centre. ICM emission at ∼ <i>R</i><sub style="font-size:8px">200</sub> is not typically detected in ∼ 45 ks <i>Chandra</i> observations, and therefore we consider it more likely that foreground emission is responsible for the hot thermal component detected in the sky background spectra.</p><p>The fits were done in the energy band 0.5 − 7 keV, using X<span style="font-size:10px">SPEC</span> v12.8.2. The two sets of best-fitting parameters – without and with a HF component – are summarized in Table 1.</p></div>
<div class="h" style="left:3245px;top:1080px">3&nbsp;&nbsp;&nbsp;Abell 1033</div>
<div class="t" style="left:3245px;top:1106px;width:364px;height:86px"><p class="n">The galaxy cluster Abell 1033 is at <i>z</i> ∼ 0.1259 and has an SZ estimated mass of <i>M</i><sub style="font-size:8px">500</sub> = (3.4 ± 0.4) × 10<sup style="font-size:8px">14</sup> M<sub style="font-size:8px">⊙</sub>(Planck Collaboration 2013). In this section we will present the analysis of the cluster's galaxy distribution in projection and redshift. We will also study the radio environment and the X-ray properties of the cluster.</p></div>
<div class="cap" style="left:2846px;top:1040px;width:363px;height:140px;line-height:15.2px"><b>Figure 2.</b> <i>Left</i>: <i>Chandra</i> surface brightness map, in the energy band 0.5 − 7 keV. The image was binned by 2, exposure-corrected, vignetting-corrected, and smoothed with a two-dimensional Gaussian kernel of σ = 3 pixels (1 pixel ≈ 1 arcsec). <i>Centre</i>: the image shows point sources detected by <i>wavdetect</i> and confirmed visually, as well as two additional point sources missed by <i>wavdetect</i> and a circular region of radius 3 arcmin located west of the cluster, centred approximately on the position of three galaxy cluster candidates listed in the NED database. <i>Right</i>: image with the point sources subtracted zoomed in on the main cluster emission.</div>

<!-- ================= PAGE 5 text ================= -->
<div class="hd" style="left:4234px;top:115px;width:302px;text-align:right">Abell 1033: birth of a radio phoenix&nbsp;&nbsp;&nbsp;&nbsp;&nbsp;5</div>
<div class="h" style="left:3773px;top:154px">3.1&nbsp;&nbsp;&nbsp;Optical properties</div>
<div class="hi" style="left:3773px;top:180px">3.1.1&nbsp;&nbsp;&nbsp;Projected Galaxy Distribution</div>
<div class="t" style="left:3773px;top:206px;width:364px;height:651px"><p class="n">We use SDSS photometry and photometric redshifts to select likely cluster members in order to study the projected galaxy distribution of the cluster. We use the SDSS <i>type</i> flag to disambiguate stars and galaxies in the field. We select all galaxies with a photometric redshift within ±0.103 (1 + <i>z</i><sub style="font-size:8px">cluster</sub>), which is the root-mean-square of the photometric redshift uncertainty based on the SDSS faint spectroscopic calibration sample<sup style="font-size:8px">6</sup>. As noted in §2.3, we find the mean cluster redshift <i>z</i><sub style="font-size:8px">cluster</sub> = 0.123. Since the photometric redshifts become unreliable for faint galaxies, due to photometric uncertainty and lack of spectroscopic training galaxies, we apply a magnitude cut of <i>r</i> &lt; 21 to our cluster sample. Examining the <i>u</i> − <i>r</i> color-magnitude distribution of these galaxies we find that a number are redder than the two BCG's (<i>u</i> − <i>r</i> ∼ 3), thus we additionally remove any galaxy with <i>u</i> − <i>r</i> &gt; 3.5. We define the 350 galaxies that pass these selection cuts as cluster members.</p><p>We plot the distribution of cluster members, after smoothing with a Gaussian kernel with σ = 41″, in Fig. 3. We find that the distribution of cluster galaxies is largely bimodal with evidence for a north and south subcluster. Both north and south BCGs (BCG north: RA 10<sup style="font-size:8px">h</sup>31<sup style="font-size:8px">m</sup>39.8<sup style="font-size:8px">s</sup> – DEC +35°05′34.4″, BCG south: RA 10<sup style="font-size:8px">h</sup>31<sup style="font-size:8px">m</sup>44.3<sup style="font-size:8px">s</sup> – DEC +35°02′29.0″) are within 50 kpc projected distance form the relative subcluster number density peaks (subcluster north: RA 10<sup style="font-size:8px">h</sup>31<sup style="font-size:8px">m</sup>40.8<sup style="font-size:8px">s</sup> – DEC +35°05′27″, subcluster south: RA 10<sup style="font-size:8px">h</sup>31<sup style="font-size:8px">m</sup>42.7<sup style="font-size:8px">s</sup> – DEC +35°02′41″). The X-ray luminosity peak (RA 10<sup style="font-size:8px">h</sup>31<sup style="font-size:8px">m</sup>44.8<sup style="font-size:8px">s</sup> – DEC +35°02′18″) is within 100 kpc projected distance from the southern subcluster number density peak, but it is very close to the southern BCG. Despite the similar extent and galaxy densities of the north and south subclusters, there is no apparent X-ray peak associated with the northern one.</p><p>To examine the significance of the north and south subclusters we created 1000 bootstrap realizations of the galaxy number density map. Using the variance of these bootstrap realizations and assuming Gaussian statistics we find that the southern subcluster has a peak signal-to-noise-ratio (SNR) of 5.6, the northern subcluster has a peak SNR of 4.9, the 150 galaxies Mpc<sup style="font-size:8px">−2</sup> level has an average SNR ≈ 4.0, and the trough region between the two peaks has an average SNR ≈ 4.5. We also find the same structures in a luminosity weighted density map. Thus we believe Abell 1033 is composed of two subclusters of comparable richness.</p></div>
<div class="hi" style="left:3773px;top:888px">3.1.2&nbsp;&nbsp;&nbsp;Redshift Analysis</div>
<div class="t" style="left:3773px;top:914px;width:364px;height:236px"><p class="n">We examined the redshift properties of the 33 spectroscopic cluster galaxies. We show the redshift distribution of these galaxies in Fig. 4. For these galaxies we estimate a redshift of <i>z</i> = 0.1230 ± 0.0005 and velocity dispersion of 800 ± 80 km s<sup style="font-size:8px">−1</sup> using the biweight-statistic and bias-corrected 68% confidence limits (Beers, Flynn &amp; Gebhardt 1990) applied to 100,000 bootstrap samples of the cluster's spectroscopic redshifts. Given the bimodal galaxy number density (Fig. 3) and disturbed redshift distribution (Fig. 4) it is likely that the velocity dispersion is biased. The redshift distribution, Fig. 4, shows signs of being bimodal, however we note that it is unlikely that the observed distribution is an accurate representation of the full cluster redshift distribution given the complex nature of the cluster and limited number of spectroscopic redshifts.</p></div>
<div class="fn" style="left:3773px;top:1177px"><sup style="font-size:7px">6</sup>&nbsp; <span class="mono">http://www.sdss3.org/dr10/algorithms/photo-z.php</span></div>
<div class="cap" style="left:4173px;top:547px;width:364px;height:108px"><b>Figure 3.</b> Abell 1033 galaxy number density map (blue scale), based on the cluster member selection cuts described in §3.1.1. The blue contours begin at 100 galaxies Mpc<sup style="font-size:7px">−2</sup> and increase in increments of 25 galaxies Mpc<sup style="font-size:7px">−2</sup>. The distribution is largely bimodal showing evidence for a north and south subcluster. The X-ray gas (white contours; from Fig. 5a) is peaked near the southern subcluster, while there is no apparent gas peak near the northern subcluster. The VLA radio contours from Fig. 1b are shown in red.</div>
<div class="cap" style="left:4173px;top:980px;width:364px;height:108px"><b>Figure 4.</b> Redshift distribution of the 33 spectroscopic galaxies within ±3000km s<sup style="font-size:7px">−1</sup> of the mean redshift of <i>z</i> = 0.1230 ± 0.0005. The redshift of the north and south BCG's are denoted by the arrows. While there appears to be a bimodal redshift distribution it is unlikely that the observed distribution is an accurate representation of the full cluster redshift distribution given the complex nature of the cluster and limited number of spectroscopic redshifts.</div>
</body></html>
